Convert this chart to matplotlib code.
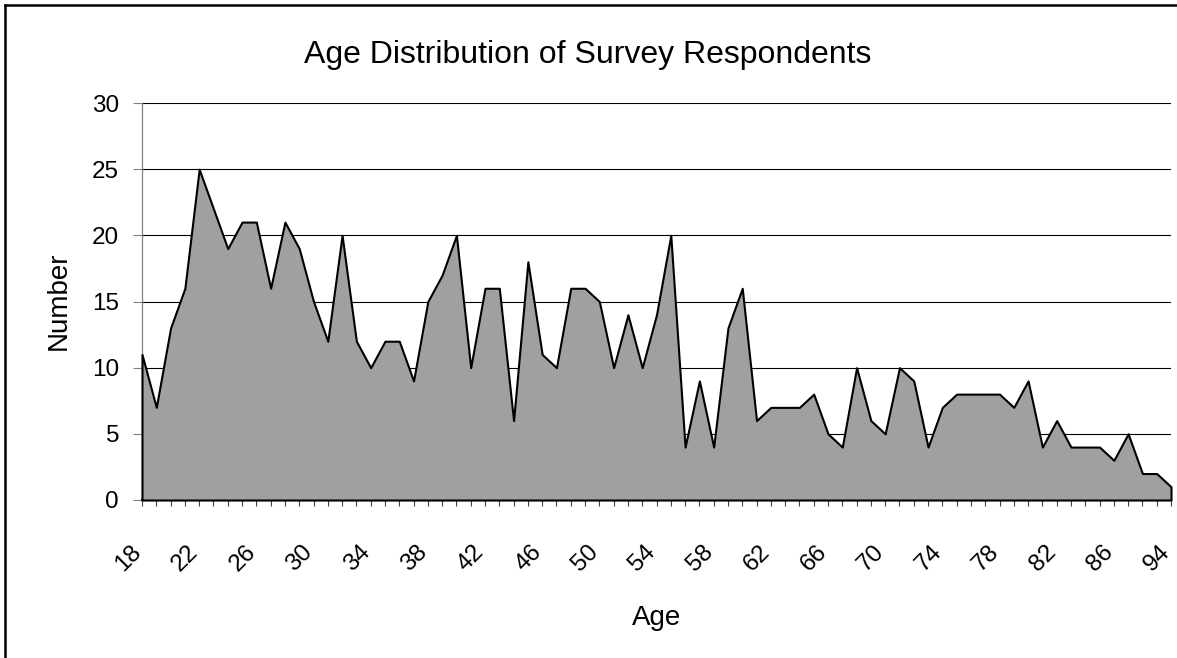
import matplotlib
matplotlib.use('Agg')
import matplotlib.pyplot as plt
from matplotlib.lines import Line2D
from matplotlib.transforms import ScaledTranslation

# ---- data ----
ages = list(range(18, 87)) + [87, 88, 89, 94]
counts = [11, 7, 13, 16, 25, 22, 19, 21, 21, 16,
          21, 19, 15, 12, 20, 12, 10, 12, 12, 9,
          15, 17, 20, 10, 16, 16, 6, 18, 11, 10,
          16, 16, 15, 10, 14, 10, 14, 20, 4, 9,
          4, 13, 16, 6, 7, 7, 7, 8, 5, 4,
          10, 6, 5, 10, 9, 4, 7, 8, 8, 8,
          8, 7, 9, 4, 6, 4, 4, 4, 3, 5,
          2, 2, 1]
yticks = [0, 5, 10, 15, 20, 25, 30]
title = "Age Distribution of Survey Respondents"
xlabel = "Age"
ylabel = "Number"

plt.rcParams['font.family'] = ['Liberation Sans', 'DejaVu Sans']

W, H = 1177, 658
fig = plt.figure(figsize=(W / 100, H / 100), dpi=100)
fig.patch.set_facecolor('white')

L, R, T, B = 142, 1171, 103, 500
ax = fig.add_axes([L / W, 1 - B / H, (R - L) / W, (B - T) / H])

xs = list(range(len(counts)))
ax.fill_between(xs, counts, 0, facecolor='#A0A0A0', edgecolor='black',
                linewidth=1.5, zorder=3, clip_on=False)

ax.set_xlim(0, len(counts) - 1)
ax.set_ylim(0, 30)
ax.set_yticks(yticks)
ax.yaxis.grid(True, color='black', linewidth=0.8)
ax.set_axisbelow(True)

for s in ['top', 'right']:
    ax.spines[s].set_visible(False)
ax.spines['left'].set_color('#808080')
ax.spines['left'].set_linewidth(0.9)
ax.spines['bottom'].set_color('black')
ax.spines['bottom'].set_linewidth(1.5)

ax.tick_params(axis='y', length=6.5, width=0.8, color='#808080', pad=10,
               labelsize=17.5)

ax.set_xticks(xs, minor=True)
ax.set_xticks(xs[::4], labels=[str(a) for a in ages[::4]])
ax.tick_params(axis='x', which='both', length=4.3, width=0.8, color='#404040',
               direction='out')
ax.tick_params(axis='x', which='major', labelsize=17.5, pad=25)
off = ScaledTranslation(-12 / 100, 0, fig.dpi_scale_trans)
for t in ax.xaxis.get_major_ticks():
    lb = t.label1
    lb.set_rotation(45)
    lb.set_ha('right')
    lb.set_va('top')
    lb.set_rotation_mode('anchor')
    lb.set_transform(lb.get_transform() + off)

fig.text(588 / W, 1 - 55 / H, title, ha='center', va='center', fontsize=23)
fig.text(59 / W, 1 - 301 / H, ylabel, ha='center', va='center', rotation=90,
         fontsize=20)
fig.text(657 / W, 1 - 618 / H, xlabel, ha='center', va='center', fontsize=20)

# outer chart frame (left and top edges visible)
fx, fy = 5.3 / W, 1 - 4.5 / H
fig.add_artist(Line2D([fx, fx], [0, fy], transform=fig.transFigure,
                      color='black', linewidth=1.8))
fig.add_artist(Line2D([fx, 1], [fy, fy], transform=fig.transFigure,
                      color='black', linewidth=1.8))

fig.savefig('out.png', dpi=100)
